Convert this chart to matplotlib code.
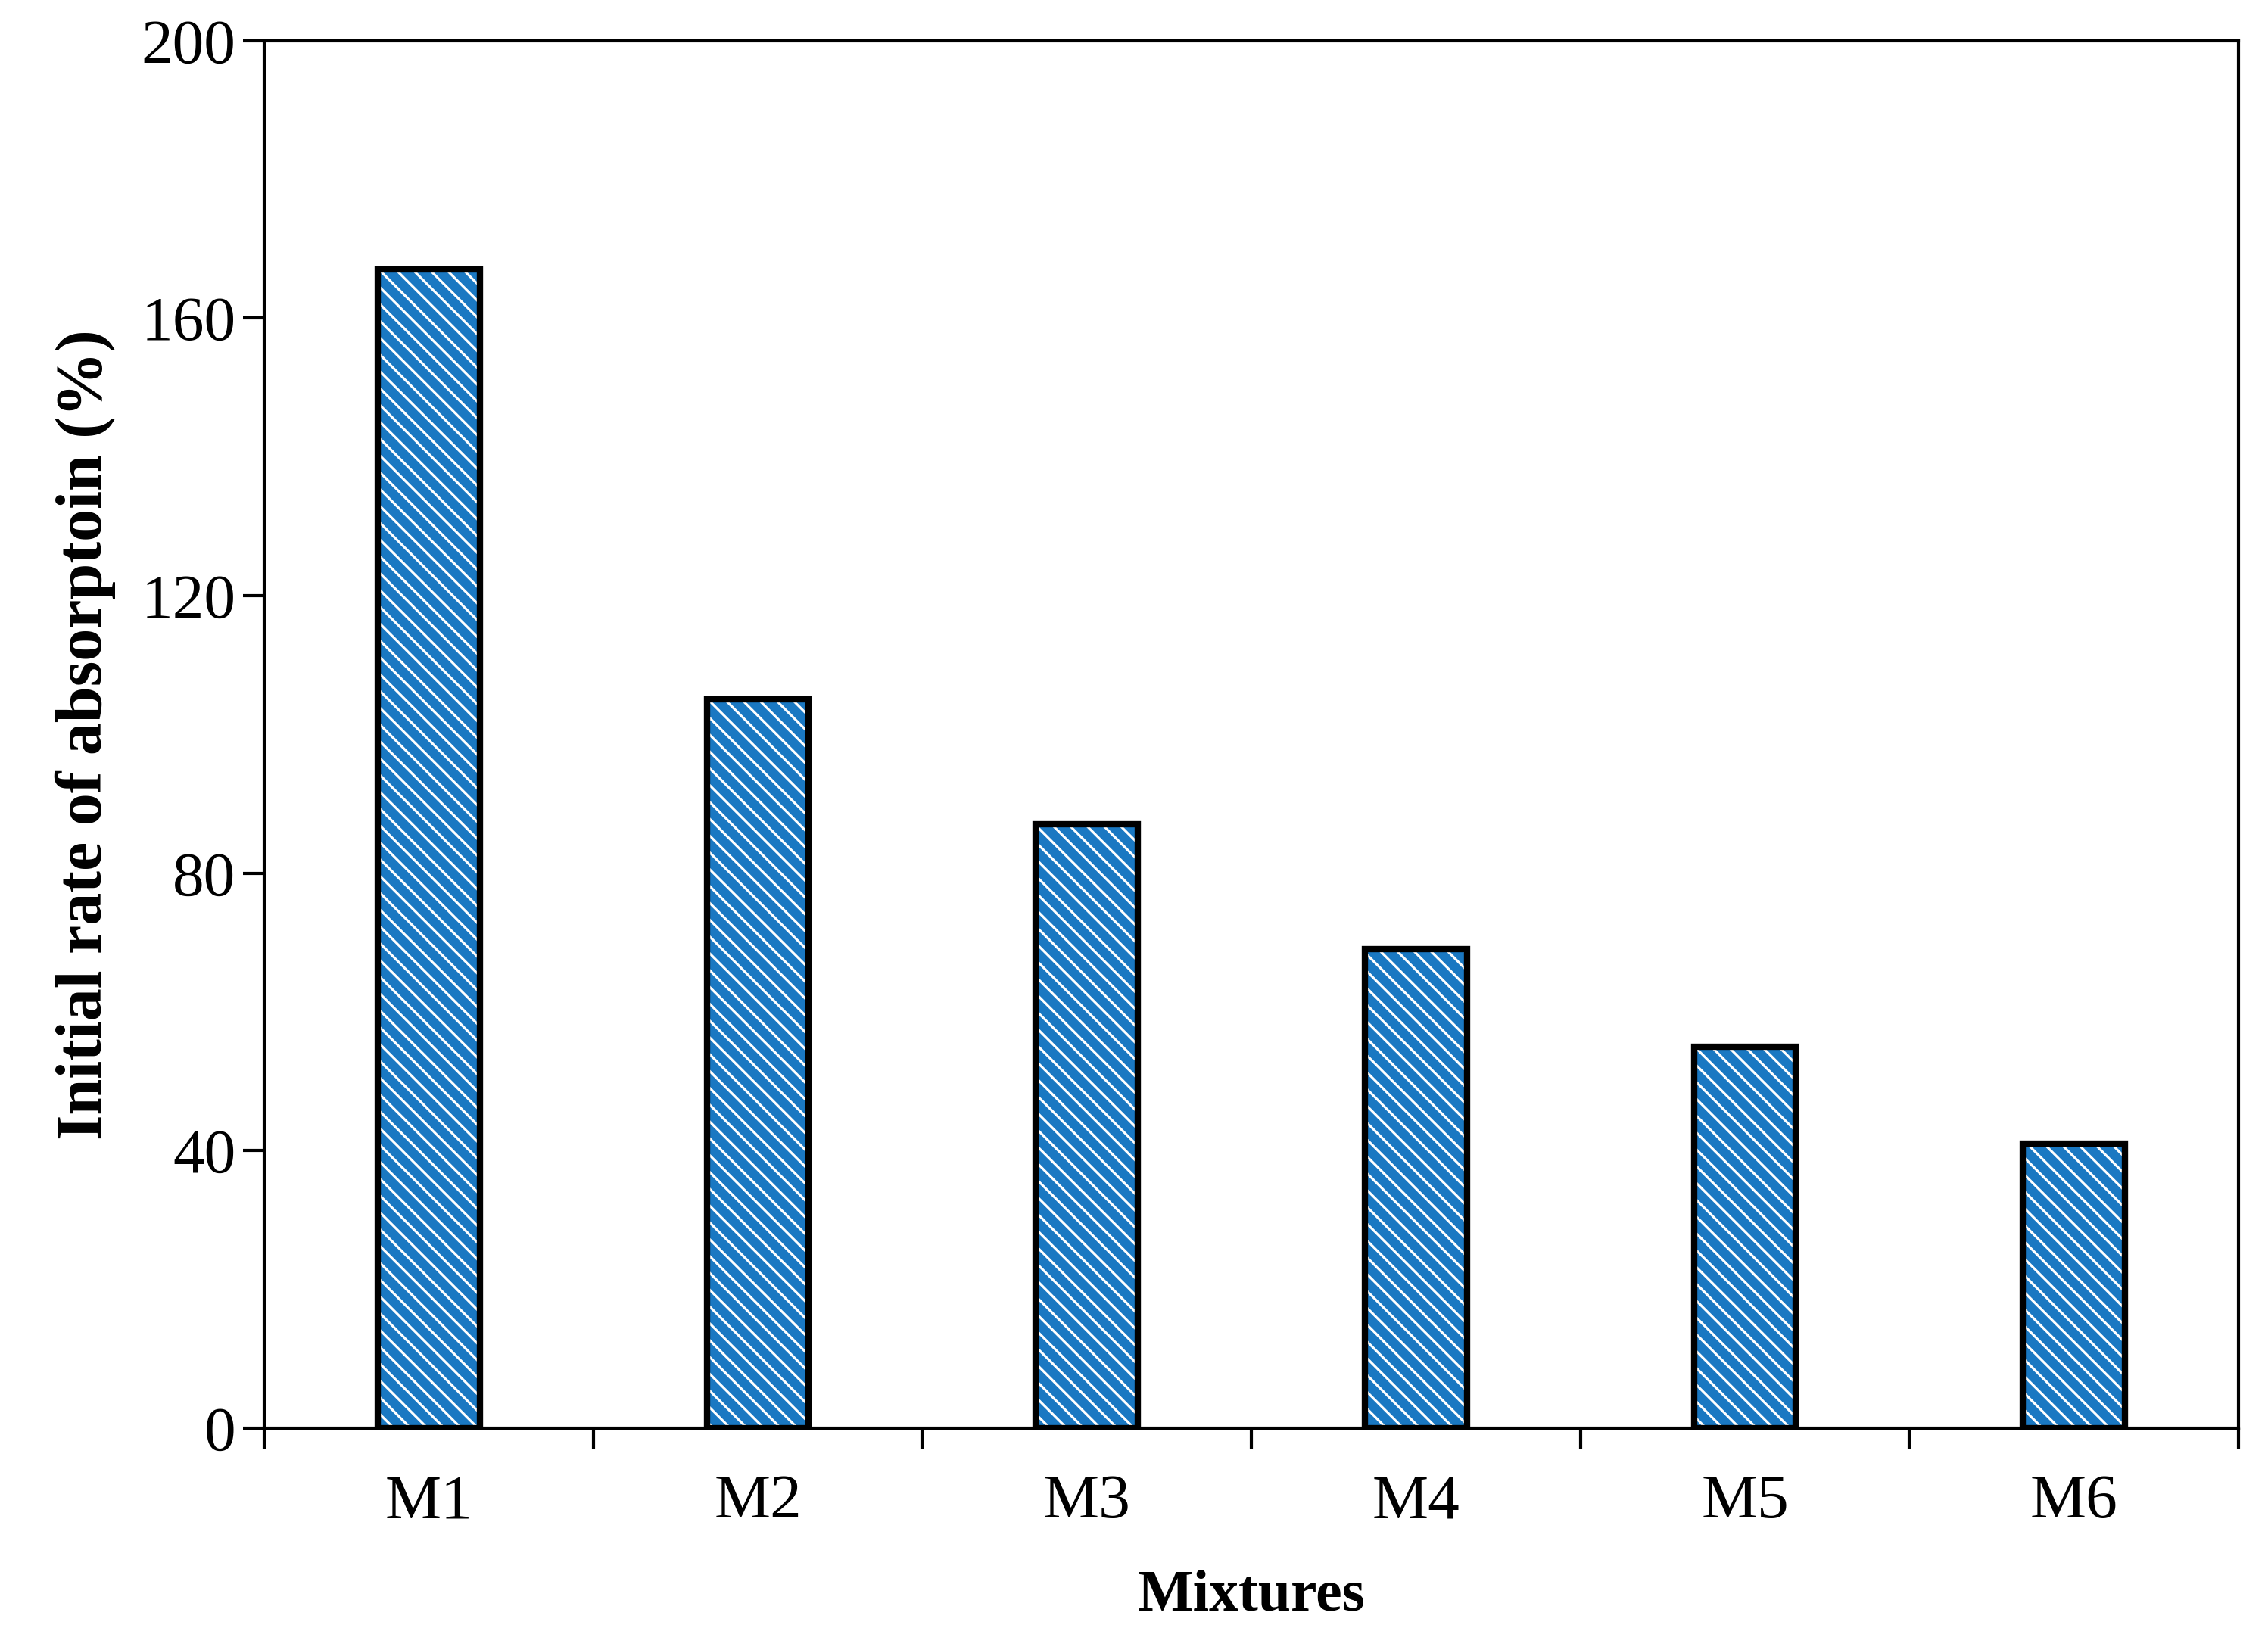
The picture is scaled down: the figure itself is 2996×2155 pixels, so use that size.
import matplotlib
matplotlib.use("Agg")
import matplotlib.pyplot as plt
import numpy as np

categories = ["M1", "M2", "M3", "M4", "M5", "M6"]
values = [167, 105, 87, 69, 55, 41]

plt.rcParams['font.family'] = ['Liberation Serif', 'DejaVu Serif']
plt.rcParams['hatch.linewidth'] = 4.5
fig = plt.figure(figsize=(14.98, 10.775), dpi=200)
ax = fig.add_axes([0.1165, 0.1245, 0.8705, 0.8505])
x = np.arange(len(categories))
ax.bar(x, values, width=0.31, color='white', edgecolor='#1a78c2', hatch='\\\\\\', linewidth=0)
ax.bar(x, values, width=0.31, fill=False, edgecolor='black', linewidth=3)
ax.set_xlim(-0.5, len(categories) - 0.5)
ax.set_ylim(0, 200)
ax.set_yticks([0, 40, 80, 120, 160, 200])
ax.set_xticks(x)
ax.set_xticklabels(categories)
ax.set_xticks(np.arange(-0.5, len(categories)), minor=True)
ax.tick_params(axis='x', which='major', length=0, labelsize=30, pad=22)
ax.tick_params(axis='x', which='minor', length=10, width=1.5, direction='out')
ax.tick_params(axis='y', length=10, width=1.5, direction='out', labelsize=30)
for s in ax.spines.values():
    s.set_linewidth(1.5)
ax.set_xlabel("Mixtures", fontsize=28, fontweight='bold', labelpad=18)
ax.set_ylabel("Initial rate of absorptoin (%)", fontsize=31, fontweight='bold', labelpad=12)
fig.savefig("out.png", dpi=200)
